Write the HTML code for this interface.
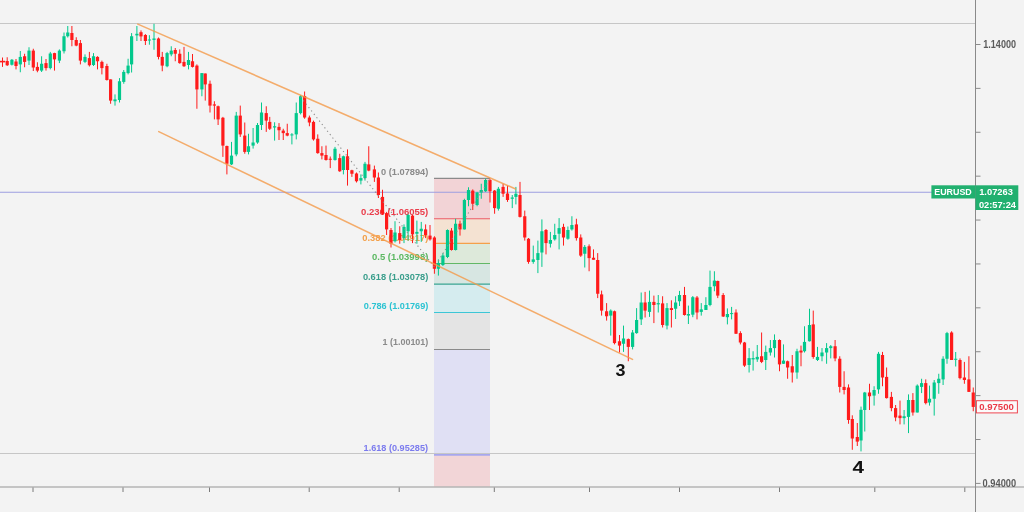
<!DOCTYPE html><html><head><meta charset="utf-8"><style>
html,body{margin:0;padding:0;background:#f3f3f3;}
svg{display:block;font-family:"Liberation Sans",sans-serif;will-change:transform;}
</style></head><body>
<svg width="1024" height="512" viewBox="0 0 1024 512">
<rect width="1024" height="512" fill="#f3f3f3"/>
<rect x="434" y="178.4" width="56" height="40.4" fill="#f2d3d6"/>
<rect x="434" y="218.8" width="56" height="24.6" fill="#f4e2d2"/>
<rect x="434" y="243.4" width="56" height="20.1" fill="#dde9da"/>
<rect x="434" y="263.5" width="56" height="20.6" fill="#d7e6e2"/>
<rect x="434" y="284.1" width="56" height="28.4" fill="#d5ecef"/>
<rect x="434" y="312.5" width="56" height="37" fill="#e4e4e4"/>
<rect x="434" y="349.5" width="56" height="105.4" fill="#e0e0f4"/>
<rect x="434" y="454.9" width="56" height="32.1" fill="#f2d5d7"/>
<line x1="0" y1="23.5" x2="975" y2="23.5" stroke="#c6c6c6" stroke-width="1"/>
<line x1="0" y1="453.5" x2="975" y2="453.5" stroke="#c6c6c6" stroke-width="1"/>
<line x1="434" y1="178.4" x2="490" y2="178.4" stroke="#8a8a8a" stroke-width="1.1"/>
<line x1="434" y1="218.8" x2="490" y2="218.8" stroke="#ec5a66" stroke-width="1.1"/>
<line x1="434" y1="243.4" x2="490" y2="243.4" stroke="#f5a04a" stroke-width="1.1"/>
<line x1="434" y1="263.5" x2="490" y2="263.5" stroke="#62b866" stroke-width="1.1"/>
<line x1="434" y1="284.1" x2="490" y2="284.1" stroke="#3aa592" stroke-width="1.1"/>
<line x1="434" y1="312.5" x2="490" y2="312.5" stroke="#3cc6d6" stroke-width="1.1"/>
<line x1="434" y1="349.5" x2="490" y2="349.5" stroke="#8a8a8a" stroke-width="1.1"/>
<line x1="434" y1="454.9" x2="490" y2="454.9" stroke="#a7a7ee" stroke-width="1.6"/>
<line x1="0" y1="192.2" x2="932" y2="192.2" stroke="#9c9ee0" stroke-width="1.15"/>
<text x="381.05" y="175.2" font-size="9.2" font-weight="bold" fill="#8a8a8a" textLength="47.25" lengthAdjust="spacingAndGlyphs">0 (1.07894)</text>
<text x="361.1" y="215.1" font-size="9.2" font-weight="bold" fill="#ea3d4b" textLength="67.2" lengthAdjust="spacingAndGlyphs">0.236 (1.06055)</text>
<text x="362.3" y="240.6" font-size="9.2" font-weight="bold" fill="#f3a04a" textLength="66.0" lengthAdjust="spacingAndGlyphs">0.382 (1.04917)</text>
<text x="372.0" y="260.2" font-size="9.2" font-weight="bold" fill="#5cb862" textLength="56.3" lengthAdjust="spacingAndGlyphs">0.5 (1.03998)</text>
<text x="362.9" y="280.1" font-size="9.2" font-weight="bold" fill="#3a9e8c" textLength="65.4" lengthAdjust="spacingAndGlyphs">0.618 (1.03078)</text>
<text x="363.8" y="308.8" font-size="9.2" font-weight="bold" fill="#2cc3d2" textLength="64.5" lengthAdjust="spacingAndGlyphs">0.786 (1.01769)</text>
<text x="382.6" y="345.4" font-size="9.2" font-weight="bold" fill="#8a8a8a" textLength="45.7" lengthAdjust="spacingAndGlyphs">1 (1.00101)</text>
<text x="363.6" y="450.6" font-size="9.2" font-weight="bold" fill="#7b7bee" textLength="64.4" lengthAdjust="spacingAndGlyphs">1.618 (0.95285)</text>
<line x1="2.5" y1="57.5" x2="2.5" y2="66.9" stroke="#ff1b1b" stroke-width="1"/>
<rect x="0" y="60.8" width="5.1" height="1.6" fill="#ff1b1b"/>
<line x1="7.2" y1="57.25" x2="7.2" y2="66" stroke="#ff1b1b" stroke-width="1"/>
<rect x="5.6" y="61" width="3.2" height="4.25" fill="#ff1b1b"/>
<line x1="11.9" y1="59" x2="11.9" y2="65.5" stroke="#02c88c" stroke-width="1"/>
<rect x="10.3" y="59.75" width="3.2" height="5" fill="#02c88c"/>
<line x1="16" y1="59" x2="16" y2="69.4" stroke="#ff1b1b" stroke-width="1"/>
<rect x="14.4" y="61.5" width="3.2" height="4.5" fill="#ff1b1b"/>
<line x1="20.3" y1="51" x2="20.3" y2="72.25" stroke="#02c88c" stroke-width="1"/>
<rect x="18.7" y="56.9" width="3.2" height="7.5" fill="#02c88c"/>
<line x1="24.6" y1="53.75" x2="24.6" y2="67.25" stroke="#ff1b1b" stroke-width="1"/>
<rect x="23" y="56.25" width="3.2" height="5.65" fill="#ff1b1b"/>
<line x1="29" y1="47.25" x2="29" y2="65" stroke="#02c88c" stroke-width="1"/>
<rect x="27.4" y="50.6" width="3.2" height="10" fill="#02c88c"/>
<line x1="33.3" y1="48.75" x2="33.3" y2="71" stroke="#ff1b1b" stroke-width="1"/>
<rect x="31.7" y="50.6" width="3.2" height="16.9" fill="#ff1b1b"/>
<line x1="37.4" y1="62.25" x2="37.4" y2="72.25" stroke="#ff1b1b" stroke-width="1"/>
<rect x="35.8" y="66.9" width="3.2" height="3.7" fill="#ff1b1b"/>
<line x1="41.6" y1="56.25" x2="41.6" y2="72" stroke="#02c88c" stroke-width="1"/>
<rect x="40" y="63.75" width="3.2" height="6.85" fill="#02c88c"/>
<line x1="46" y1="59" x2="46" y2="70.6" stroke="#ff1b1b" stroke-width="1"/>
<rect x="44.4" y="63.1" width="3.2" height="5" fill="#ff1b1b"/>
<line x1="50.3" y1="51.9" x2="50.3" y2="69.4" stroke="#02c88c" stroke-width="1"/>
<rect x="48.7" y="53.5" width="3.2" height="14.6" fill="#02c88c"/>
<line x1="54.5" y1="52.75" x2="54.5" y2="70.6" stroke="#ff1b1b" stroke-width="1"/>
<rect x="52.9" y="53.1" width="3.2" height="6.3" fill="#ff1b1b"/>
<line x1="59.4" y1="49.4" x2="59.4" y2="63.1" stroke="#02c88c" stroke-width="1"/>
<rect x="57.8" y="50.6" width="3.2" height="10" fill="#02c88c"/>
<line x1="64" y1="32.5" x2="64" y2="53.5" stroke="#02c88c" stroke-width="1"/>
<rect x="62.4" y="36.25" width="3.2" height="15" fill="#02c88c"/>
<line x1="67.75" y1="26" x2="67.75" y2="37.5" stroke="#02c88c" stroke-width="1"/>
<rect x="66.15" y="32.5" width="3.2" height="3.75" fill="#02c88c"/>
<line x1="71.9" y1="26" x2="71.9" y2="46.25" stroke="#ff1b1b" stroke-width="1"/>
<rect x="70.3" y="33" width="3.2" height="7" fill="#ff1b1b"/>
<line x1="76.25" y1="37.25" x2="76.25" y2="46.25" stroke="#ff1b1b" stroke-width="1"/>
<rect x="74.65" y="40" width="3.2" height="5.6" fill="#ff1b1b"/>
<line x1="80.4" y1="40" x2="80.4" y2="64.4" stroke="#ff1b1b" stroke-width="1"/>
<rect x="78.8" y="43.1" width="3.2" height="17.5" fill="#ff1b1b"/>
<line x1="85" y1="54.4" x2="85" y2="63.1" stroke="#02c88c" stroke-width="1"/>
<rect x="83.4" y="56.9" width="3.2" height="5" fill="#02c88c"/>
<line x1="89.4" y1="51.9" x2="89.4" y2="66.5" stroke="#ff1b1b" stroke-width="1"/>
<rect x="87.8" y="58.1" width="3.2" height="7.15" fill="#ff1b1b"/>
<line x1="93.5" y1="53.1" x2="93.5" y2="66" stroke="#02c88c" stroke-width="1"/>
<rect x="91.9" y="56.25" width="3.2" height="8.75" fill="#02c88c"/>
<line x1="97.5" y1="56.25" x2="97.5" y2="69.4" stroke="#ff1b1b" stroke-width="1"/>
<rect x="95.9" y="56.9" width="3.2" height="4.35" fill="#ff1b1b"/>
<line x1="101.9" y1="60.6" x2="101.9" y2="74.4" stroke="#ff1b1b" stroke-width="1"/>
<rect x="100.3" y="61.9" width="3.2" height="6.2" fill="#ff1b1b"/>
<line x1="106.9" y1="63.75" x2="106.9" y2="80.6" stroke="#ff1b1b" stroke-width="1"/>
<rect x="105.3" y="66" width="3.2" height="14" fill="#ff1b1b"/>
<line x1="110.6" y1="79.4" x2="110.6" y2="103.75" stroke="#ff1b1b" stroke-width="1"/>
<rect x="109" y="79.4" width="3.2" height="21.2" fill="#ff1b1b"/>
<line x1="115" y1="94.4" x2="115" y2="105.6" stroke="#02c88c" stroke-width="1"/>
<rect x="113.4" y="99.4" width="3.2" height="1.85" fill="#02c88c"/>
<line x1="119.5" y1="78.1" x2="119.5" y2="102.5" stroke="#02c88c" stroke-width="1"/>
<rect x="117.9" y="81.25" width="3.2" height="18.75" fill="#02c88c"/>
<line x1="123.75" y1="70" x2="123.75" y2="83.75" stroke="#02c88c" stroke-width="1"/>
<rect x="122.15" y="71.9" width="3.2" height="10" fill="#02c88c"/>
<line x1="128.1" y1="58.75" x2="128.1" y2="74.4" stroke="#02c88c" stroke-width="1"/>
<rect x="126.5" y="65.6" width="3.2" height="7.5" fill="#02c88c"/>
<line x1="131.6" y1="33.1" x2="131.6" y2="72.5" stroke="#02c88c" stroke-width="1"/>
<rect x="130" y="36.25" width="3.2" height="28.15" fill="#02c88c"/>
<line x1="136.9" y1="26" x2="136.9" y2="41" stroke="#02c88c" stroke-width="1"/>
<rect x="135.3" y="33.8" width="3.2" height="1.6" fill="#02c88c"/>
<line x1="141" y1="30.4" x2="141" y2="41" stroke="#ff1b1b" stroke-width="1"/>
<rect x="139.4" y="32.2" width="3.2" height="4.2" fill="#ff1b1b"/>
<line x1="145.4" y1="34.1" x2="145.4" y2="45" stroke="#ff1b1b" stroke-width="1"/>
<rect x="143.8" y="35" width="3.2" height="6" fill="#ff1b1b"/>
<line x1="149.4" y1="35.2" x2="149.4" y2="44.7" stroke="#02c88c" stroke-width="1"/>
<rect x="147.8" y="39.5" width="3.2" height="1" fill="#02c88c"/>
<line x1="154" y1="23.8" x2="154" y2="49.75" stroke="#02c88c" stroke-width="1"/>
<rect x="152.4" y="38.5" width="3.2" height="1.4" fill="#02c88c"/>
<line x1="158.5" y1="37.5" x2="158.5" y2="59.4" stroke="#ff1b1b" stroke-width="1"/>
<rect x="156.9" y="38.5" width="3.2" height="18.4" fill="#ff1b1b"/>
<line x1="162.25" y1="51.9" x2="162.25" y2="71.25" stroke="#ff1b1b" stroke-width="1"/>
<rect x="160.65" y="56.9" width="3.2" height="8.7" fill="#ff1b1b"/>
<line x1="167.1" y1="51.9" x2="167.1" y2="67.25" stroke="#02c88c" stroke-width="1"/>
<rect x="165.5" y="53.1" width="3.2" height="13.15" fill="#02c88c"/>
<line x1="171.25" y1="46.25" x2="171.25" y2="56.25" stroke="#02c88c" stroke-width="1"/>
<rect x="169.65" y="50.6" width="3.2" height="3.8" fill="#02c88c"/>
<line x1="175.25" y1="48" x2="175.25" y2="61.25" stroke="#ff1b1b" stroke-width="1"/>
<rect x="173.65" y="50" width="3.2" height="3.75" fill="#ff1b1b"/>
<line x1="179.75" y1="49.4" x2="179.75" y2="63.75" stroke="#ff1b1b" stroke-width="1"/>
<rect x="178.15" y="53.75" width="3.2" height="9.35" fill="#ff1b1b"/>
<line x1="184" y1="46.9" x2="184" y2="66.9" stroke="#ff1b1b" stroke-width="1"/>
<rect x="182.4" y="61.9" width="3.2" height="4.35" fill="#ff1b1b"/>
<line x1="188.5" y1="51.9" x2="188.5" y2="69.4" stroke="#02c88c" stroke-width="1"/>
<rect x="186.9" y="60" width="3.2" height="5" fill="#02c88c"/>
<line x1="192.5" y1="54" x2="192.5" y2="67.5" stroke="#ff1b1b" stroke-width="1"/>
<rect x="190.9" y="61.25" width="3.2" height="5.65" fill="#ff1b1b"/>
<line x1="196.9" y1="64.4" x2="196.9" y2="108.75" stroke="#ff1b1b" stroke-width="1"/>
<rect x="195.3" y="65.6" width="3.2" height="23.8" fill="#ff1b1b"/>
<line x1="201.9" y1="73" x2="201.9" y2="96.25" stroke="#02c88c" stroke-width="1"/>
<rect x="200.3" y="73.1" width="3.2" height="16.3" fill="#02c88c"/>
<line x1="205.25" y1="73.5" x2="205.25" y2="100.6" stroke="#ff1b1b" stroke-width="1"/>
<rect x="203.65" y="73.5" width="3.2" height="10.9" fill="#ff1b1b"/>
<line x1="210" y1="80.6" x2="210" y2="112.5" stroke="#ff1b1b" stroke-width="1"/>
<rect x="208.4" y="83.75" width="3.2" height="21.85" fill="#ff1b1b"/>
<line x1="214.4" y1="101.25" x2="214.4" y2="119.4" stroke="#ff1b1b" stroke-width="1"/>
<rect x="212.8" y="104.4" width="3.2" height="1.2" fill="#ff1b1b"/>
<line x1="218.1" y1="105.6" x2="218.1" y2="125" stroke="#ff1b1b" stroke-width="1"/>
<rect x="216.5" y="106.25" width="3.2" height="13.15" fill="#ff1b1b"/>
<line x1="222.9" y1="116.9" x2="222.9" y2="156.9" stroke="#ff1b1b" stroke-width="1"/>
<rect x="221.3" y="117.75" width="3.2" height="27.85" fill="#ff1b1b"/>
<line x1="226.9" y1="145.6" x2="226.9" y2="174.4" stroke="#ff1b1b" stroke-width="1"/>
<rect x="225.3" y="146" width="3.2" height="17.75" fill="#ff1b1b"/>
<line x1="231.5" y1="141.9" x2="231.5" y2="165" stroke="#02c88c" stroke-width="1"/>
<rect x="229.9" y="155.6" width="3.2" height="8.8" fill="#02c88c"/>
<line x1="236.25" y1="111.9" x2="236.25" y2="156.25" stroke="#02c88c" stroke-width="1"/>
<rect x="234.65" y="115.6" width="3.2" height="38.8" fill="#02c88c"/>
<line x1="240.25" y1="105.6" x2="240.25" y2="136.9" stroke="#ff1b1b" stroke-width="1"/>
<rect x="238.65" y="115.6" width="3.2" height="18.8" fill="#ff1b1b"/>
<line x1="244.75" y1="122.5" x2="244.75" y2="153.75" stroke="#ff1b1b" stroke-width="1"/>
<rect x="243.15" y="135.6" width="3.2" height="16.3" fill="#ff1b1b"/>
<line x1="248.5" y1="133.75" x2="248.5" y2="154.4" stroke="#02c88c" stroke-width="1"/>
<rect x="246.9" y="146.25" width="3.2" height="5.65" fill="#02c88c"/>
<line x1="253.1" y1="128" x2="253.1" y2="148.6" stroke="#02c88c" stroke-width="1"/>
<rect x="251.5" y="142.5" width="3.2" height="3.1" fill="#02c88c"/>
<line x1="257.5" y1="123" x2="257.5" y2="143.75" stroke="#02c88c" stroke-width="1"/>
<rect x="255.9" y="125" width="3.2" height="17.5" fill="#02c88c"/>
<line x1="261.5" y1="102.5" x2="261.5" y2="130" stroke="#02c88c" stroke-width="1"/>
<rect x="259.9" y="112.5" width="3.2" height="12.5" fill="#02c88c"/>
<line x1="266.25" y1="106.25" x2="266.25" y2="131.9" stroke="#ff1b1b" stroke-width="1"/>
<rect x="264.65" y="113.1" width="3.2" height="7.5" fill="#ff1b1b"/>
<line x1="269.75" y1="116.9" x2="269.75" y2="130" stroke="#ff1b1b" stroke-width="1"/>
<rect x="268.15" y="121.9" width="3.2" height="6.85" fill="#ff1b1b"/>
<line x1="274.6" y1="122.25" x2="274.6" y2="140.6" stroke="#02c88c" stroke-width="1"/>
<rect x="273" y="126.25" width="3.2" height="1.25" fill="#02c88c"/>
<line x1="279" y1="123.1" x2="279" y2="140" stroke="#ff1b1b" stroke-width="1"/>
<rect x="277.4" y="126.9" width="3.2" height="3.35" fill="#ff1b1b"/>
<line x1="283.25" y1="128.75" x2="283.25" y2="140" stroke="#ff1b1b" stroke-width="1"/>
<rect x="281.65" y="130.6" width="3.2" height="2.5" fill="#ff1b1b"/>
<line x1="287.25" y1="123.75" x2="287.25" y2="136.25" stroke="#ff1b1b" stroke-width="1"/>
<rect x="285.65" y="133.1" width="3.2" height="2.5" fill="#ff1b1b"/>
<line x1="291.9" y1="133.1" x2="291.9" y2="144.4" stroke="#02c88c" stroke-width="1"/>
<rect x="290.3" y="134.4" width="3.2" height="1" fill="#02c88c"/>
<line x1="296.25" y1="102.5" x2="296.25" y2="139.4" stroke="#02c88c" stroke-width="1"/>
<rect x="294.65" y="113.1" width="3.2" height="21.3" fill="#02c88c"/>
<line x1="300.6" y1="95" x2="300.6" y2="114.4" stroke="#02c88c" stroke-width="1"/>
<rect x="299" y="96.25" width="3.2" height="16.85" fill="#02c88c"/>
<line x1="304.6" y1="91.5" x2="304.6" y2="118.75" stroke="#ff1b1b" stroke-width="1"/>
<rect x="303" y="96" width="3.2" height="21.5" fill="#ff1b1b"/>
<line x1="309.4" y1="115.6" x2="309.4" y2="126.25" stroke="#ff1b1b" stroke-width="1"/>
<rect x="307.8" y="117.5" width="3.2" height="5" fill="#ff1b1b"/>
<line x1="313.5" y1="120.6" x2="313.5" y2="140.6" stroke="#ff1b1b" stroke-width="1"/>
<rect x="311.9" y="121.9" width="3.2" height="17.5" fill="#ff1b1b"/>
<line x1="317.75" y1="134.4" x2="317.75" y2="153.75" stroke="#ff1b1b" stroke-width="1"/>
<rect x="316.15" y="138.75" width="3.2" height="14.35" fill="#ff1b1b"/>
<line x1="321.9" y1="146.25" x2="321.9" y2="159.4" stroke="#ff1b1b" stroke-width="1"/>
<rect x="320.3" y="153.1" width="3.2" height="2.5" fill="#ff1b1b"/>
<line x1="326" y1="145.6" x2="326" y2="160.6" stroke="#ff1b1b" stroke-width="1"/>
<rect x="324.4" y="155" width="3.2" height="5" fill="#ff1b1b"/>
<line x1="330.25" y1="156.5" x2="330.25" y2="168.1" stroke="#ff1b1b" stroke-width="1"/>
<rect x="328.65" y="158.75" width="3.2" height="1" fill="#ff1b1b"/>
<line x1="335" y1="146.9" x2="335" y2="160.6" stroke="#02c88c" stroke-width="1"/>
<rect x="333.4" y="148.75" width="3.2" height="11.25" fill="#02c88c"/>
<line x1="339.75" y1="153.75" x2="339.75" y2="171.9" stroke="#ff1b1b" stroke-width="1"/>
<rect x="338.15" y="158.1" width="3.2" height="13.15" fill="#ff1b1b"/>
<line x1="343.4" y1="155.6" x2="343.4" y2="174.4" stroke="#02c88c" stroke-width="1"/>
<rect x="341.8" y="156.25" width="3.2" height="13.75" fill="#02c88c"/>
<line x1="347.5" y1="149.4" x2="347.5" y2="185.6" stroke="#ff1b1b" stroke-width="1"/>
<rect x="345.9" y="156.25" width="3.2" height="13.75" fill="#ff1b1b"/>
<line x1="351.9" y1="169.75" x2="351.9" y2="176.9" stroke="#ff1b1b" stroke-width="1"/>
<rect x="350.3" y="170.25" width="3.2" height="3.5" fill="#ff1b1b"/>
<line x1="356.5" y1="172.5" x2="356.5" y2="182.5" stroke="#ff1b1b" stroke-width="1"/>
<rect x="354.9" y="173.5" width="3.2" height="7.75" fill="#ff1b1b"/>
<line x1="360.9" y1="174.4" x2="360.9" y2="184.4" stroke="#02c88c" stroke-width="1"/>
<rect x="359.3" y="178.1" width="3.2" height="2.5" fill="#02c88c"/>
<line x1="365" y1="161.9" x2="365" y2="180.6" stroke="#02c88c" stroke-width="1"/>
<rect x="363.4" y="163.75" width="3.2" height="14.35" fill="#02c88c"/>
<line x1="368.75" y1="146.25" x2="368.75" y2="171.25" stroke="#ff1b1b" stroke-width="1"/>
<rect x="367.15" y="164.4" width="3.2" height="6.2" fill="#ff1b1b"/>
<line x1="374.4" y1="165.6" x2="374.4" y2="181.9" stroke="#ff1b1b" stroke-width="1"/>
<rect x="372.8" y="169.4" width="3.2" height="8.1" fill="#ff1b1b"/>
<line x1="378.4" y1="172.5" x2="378.4" y2="198" stroke="#ff1b1b" stroke-width="1"/>
<rect x="376.8" y="177.5" width="3.2" height="17.5" fill="#ff1b1b"/>
<line x1="382.5" y1="189.75" x2="382.5" y2="215" stroke="#ff1b1b" stroke-width="1"/>
<rect x="380.9" y="196.9" width="3.2" height="16.85" fill="#ff1b1b"/>
<line x1="386.6" y1="211.9" x2="386.6" y2="235" stroke="#ff1b1b" stroke-width="1"/>
<rect x="385" y="213.1" width="3.2" height="16.3" fill="#ff1b1b"/>
<line x1="391" y1="228" x2="391" y2="247.5" stroke="#ff1b1b" stroke-width="1"/>
<rect x="389.4" y="230" width="3.2" height="13.75" fill="#ff1b1b"/>
<line x1="395" y1="221.25" x2="395" y2="242.5" stroke="#02c88c" stroke-width="1"/>
<rect x="393.4" y="232.5" width="3.2" height="8.75" fill="#02c88c"/>
<line x1="399.75" y1="226.25" x2="399.75" y2="243.75" stroke="#ff1b1b" stroke-width="1"/>
<rect x="398.15" y="233.1" width="3.2" height="6.9" fill="#ff1b1b"/>
<line x1="404" y1="224.4" x2="404" y2="243.1" stroke="#02c88c" stroke-width="1"/>
<rect x="402.4" y="226.9" width="3.2" height="11.2" fill="#02c88c"/>
<line x1="408.1" y1="213.75" x2="408.1" y2="240.6" stroke="#02c88c" stroke-width="1"/>
<rect x="406.5" y="215" width="3.2" height="16.25" fill="#02c88c"/>
<line x1="412.5" y1="215" x2="412.5" y2="243.1" stroke="#ff1b1b" stroke-width="1"/>
<rect x="410.9" y="215.6" width="3.2" height="18.8" fill="#ff1b1b"/>
<line x1="416.9" y1="220.6" x2="416.9" y2="243.75" stroke="#02c88c" stroke-width="1"/>
<rect x="415.3" y="231.9" width="3.2" height="1.85" fill="#02c88c"/>
<line x1="421.25" y1="221.9" x2="421.25" y2="241.9" stroke="#02c88c" stroke-width="1"/>
<rect x="419.65" y="228.75" width="3.2" height="2.5" fill="#02c88c"/>
<line x1="425.6" y1="224.4" x2="425.6" y2="238.1" stroke="#ff1b1b" stroke-width="1"/>
<rect x="424" y="229.4" width="3.2" height="5.6" fill="#ff1b1b"/>
<line x1="430" y1="225" x2="430" y2="240.6" stroke="#ff1b1b" stroke-width="1"/>
<rect x="428.4" y="235.6" width="3.2" height="3.8" fill="#ff1b1b"/>
<line x1="434.4" y1="236.25" x2="434.4" y2="273.75" stroke="#ff1b1b" stroke-width="1"/>
<rect x="432.8" y="237.5" width="3.2" height="31.25" fill="#ff1b1b"/>
<line x1="438.4" y1="259.4" x2="438.4" y2="275.6" stroke="#02c88c" stroke-width="1"/>
<rect x="436.8" y="263.1" width="3.2" height="5.65" fill="#02c88c"/>
<line x1="442.9" y1="253.1" x2="442.9" y2="266" stroke="#02c88c" stroke-width="1"/>
<rect x="441.3" y="255.5" width="3.2" height="9.5" fill="#02c88c"/>
<line x1="447.5" y1="229.4" x2="447.5" y2="258.1" stroke="#02c88c" stroke-width="1"/>
<rect x="445.9" y="230" width="3.2" height="27" fill="#02c88c"/>
<line x1="451.5" y1="228.1" x2="451.5" y2="250.6" stroke="#ff1b1b" stroke-width="1"/>
<rect x="449.9" y="230.6" width="3.2" height="19.4" fill="#ff1b1b"/>
<line x1="455.6" y1="218.75" x2="455.6" y2="250.5" stroke="#02c88c" stroke-width="1"/>
<rect x="454" y="223.75" width="3.2" height="26.25" fill="#02c88c"/>
<line x1="460" y1="220.6" x2="460" y2="235.6" stroke="#ff1b1b" stroke-width="1"/>
<rect x="458.4" y="223.75" width="3.2" height="5.65" fill="#ff1b1b"/>
<line x1="464.4" y1="198.75" x2="464.4" y2="229.5" stroke="#02c88c" stroke-width="1"/>
<rect x="462.8" y="200" width="3.2" height="29.4" fill="#02c88c"/>
<line x1="468.5" y1="187.25" x2="468.5" y2="206.25" stroke="#02c88c" stroke-width="1"/>
<rect x="466.9" y="190" width="3.2" height="10" fill="#02c88c"/>
<line x1="472.75" y1="189.4" x2="472.75" y2="210" stroke="#ff1b1b" stroke-width="1"/>
<rect x="471.15" y="190.6" width="3.2" height="13.15" fill="#ff1b1b"/>
<line x1="477.1" y1="191.9" x2="477.1" y2="206.25" stroke="#02c88c" stroke-width="1"/>
<rect x="475.5" y="192.5" width="3.2" height="12.5" fill="#02c88c"/>
<line x1="481.25" y1="183.75" x2="481.25" y2="198.75" stroke="#02c88c" stroke-width="1"/>
<rect x="479.65" y="190" width="3.2" height="2.5" fill="#02c88c"/>
<line x1="485.6" y1="178.75" x2="485.6" y2="191.9" stroke="#02c88c" stroke-width="1"/>
<rect x="484" y="180" width="3.2" height="11.25" fill="#02c88c"/>
<line x1="490" y1="178.75" x2="490" y2="202.5" stroke="#ff1b1b" stroke-width="1"/>
<rect x="488.4" y="180" width="3.2" height="11.25" fill="#ff1b1b"/>
<line x1="494.6" y1="190" x2="494.6" y2="213.75" stroke="#ff1b1b" stroke-width="1"/>
<rect x="493" y="190.6" width="3.2" height="17.5" fill="#ff1b1b"/>
<line x1="498.4" y1="186.9" x2="498.4" y2="210.6" stroke="#02c88c" stroke-width="1"/>
<rect x="496.8" y="188.75" width="3.2" height="20" fill="#02c88c"/>
<line x1="503.1" y1="183.75" x2="503.1" y2="196.9" stroke="#ff1b1b" stroke-width="1"/>
<rect x="501.5" y="186.9" width="3.2" height="6.85" fill="#ff1b1b"/>
<line x1="507.5" y1="185.6" x2="507.5" y2="201.9" stroke="#ff1b1b" stroke-width="1"/>
<rect x="505.9" y="193.5" width="3.2" height="6.5" fill="#ff1b1b"/>
<line x1="512.25" y1="195" x2="512.25" y2="208.1" stroke="#02c88c" stroke-width="1"/>
<rect x="510.65" y="197.5" width="3.2" height="1.25" fill="#02c88c"/>
<line x1="515.9" y1="186.9" x2="515.9" y2="204.4" stroke="#02c88c" stroke-width="1"/>
<rect x="514.3" y="193.75" width="3.2" height="3.15" fill="#02c88c"/>
<line x1="520" y1="181.9" x2="520" y2="217.5" stroke="#ff1b1b" stroke-width="1"/>
<rect x="518.4" y="195" width="3.2" height="21.9" fill="#ff1b1b"/>
<line x1="524.75" y1="210.6" x2="524.75" y2="240.6" stroke="#ff1b1b" stroke-width="1"/>
<rect x="523.15" y="216.25" width="3.2" height="21.25" fill="#ff1b1b"/>
<line x1="528.5" y1="238" x2="528.5" y2="263.75" stroke="#ff1b1b" stroke-width="1"/>
<rect x="526.9" y="238.75" width="3.2" height="23.15" fill="#ff1b1b"/>
<line x1="533.25" y1="245.6" x2="533.25" y2="263.75" stroke="#02c88c" stroke-width="1"/>
<rect x="531.65" y="259.4" width="3.2" height="2.5" fill="#02c88c"/>
<line x1="537.9" y1="240.6" x2="537.9" y2="273.1" stroke="#02c88c" stroke-width="1"/>
<rect x="536.3" y="253.1" width="3.2" height="6.9" fill="#02c88c"/>
<line x1="541.9" y1="219.4" x2="541.9" y2="266.9" stroke="#02c88c" stroke-width="1"/>
<rect x="540.3" y="231.25" width="3.2" height="21.25" fill="#02c88c"/>
<line x1="546" y1="229" x2="546" y2="254.4" stroke="#ff1b1b" stroke-width="1"/>
<rect x="544.4" y="230" width="3.2" height="13.1" fill="#ff1b1b"/>
<line x1="550.4" y1="231.9" x2="550.4" y2="247.5" stroke="#02c88c" stroke-width="1"/>
<rect x="548.8" y="240" width="3.2" height="3.75" fill="#02c88c"/>
<line x1="554.75" y1="223.75" x2="554.75" y2="240.6" stroke="#02c88c" stroke-width="1"/>
<rect x="553.15" y="235" width="3.2" height="4.4" fill="#02c88c"/>
<line x1="559.1" y1="218.1" x2="559.1" y2="249.4" stroke="#02c88c" stroke-width="1"/>
<rect x="557.5" y="228.1" width="3.2" height="5.65" fill="#02c88c"/>
<line x1="563.5" y1="223.75" x2="563.5" y2="245.6" stroke="#ff1b1b" stroke-width="1"/>
<rect x="561.9" y="226.9" width="3.2" height="10.6" fill="#ff1b1b"/>
<line x1="567.9" y1="226.5" x2="567.9" y2="239.75" stroke="#02c88c" stroke-width="1"/>
<rect x="566.3" y="230" width="3.2" height="8.75" fill="#02c88c"/>
<line x1="571.9" y1="216.25" x2="571.9" y2="230.6" stroke="#02c88c" stroke-width="1"/>
<rect x="570.3" y="225" width="3.2" height="4.4" fill="#02c88c"/>
<line x1="576.4" y1="218.75" x2="576.4" y2="240.6" stroke="#ff1b1b" stroke-width="1"/>
<rect x="574.8" y="224.4" width="3.2" height="13.7" fill="#ff1b1b"/>
<line x1="580.75" y1="234.4" x2="580.75" y2="256.9" stroke="#ff1b1b" stroke-width="1"/>
<rect x="579.15" y="237.5" width="3.2" height="18.1" fill="#ff1b1b"/>
<line x1="584.75" y1="245" x2="584.75" y2="267.5" stroke="#02c88c" stroke-width="1"/>
<rect x="583.15" y="246.9" width="3.2" height="6.85" fill="#02c88c"/>
<line x1="589.1" y1="244.4" x2="589.1" y2="271.25" stroke="#ff1b1b" stroke-width="1"/>
<rect x="587.5" y="246.25" width="3.2" height="11.85" fill="#ff1b1b"/>
<line x1="593.5" y1="249.4" x2="593.5" y2="259.75" stroke="#ff1b1b" stroke-width="1"/>
<rect x="591.9" y="257.75" width="3.2" height="2" fill="#ff1b1b"/>
<line x1="597.7" y1="253.1" x2="597.7" y2="298.1" stroke="#ff1b1b" stroke-width="1"/>
<rect x="596.1" y="260" width="3.2" height="33.75" fill="#ff1b1b"/>
<line x1="601.6" y1="290.6" x2="601.6" y2="315.6" stroke="#ff1b1b" stroke-width="1"/>
<rect x="600" y="294.4" width="3.2" height="16.2" fill="#ff1b1b"/>
<line x1="606.6" y1="303.1" x2="606.6" y2="320.6" stroke="#ff1b1b" stroke-width="1"/>
<rect x="605" y="311.25" width="3.2" height="5" fill="#ff1b1b"/>
<line x1="610.75" y1="309.4" x2="610.75" y2="335.6" stroke="#02c88c" stroke-width="1"/>
<rect x="609.15" y="310.6" width="3.2" height="5" fill="#02c88c"/>
<line x1="614.5" y1="310.6" x2="614.5" y2="344.4" stroke="#ff1b1b" stroke-width="1"/>
<rect x="612.9" y="311.25" width="3.2" height="31.85" fill="#ff1b1b"/>
<line x1="619.5" y1="335" x2="619.5" y2="352.5" stroke="#ff1b1b" stroke-width="1"/>
<rect x="617.9" y="341.25" width="3.2" height="4.35" fill="#ff1b1b"/>
<line x1="623.5" y1="325.6" x2="623.5" y2="351.9" stroke="#02c88c" stroke-width="1"/>
<rect x="621.9" y="338.5" width="3.2" height="5.25" fill="#02c88c"/>
<line x1="628.3" y1="338.5" x2="628.3" y2="361.25" stroke="#ff1b1b" stroke-width="1"/>
<rect x="626.7" y="339.1" width="3.2" height="7.8" fill="#ff1b1b"/>
<line x1="632.6" y1="330" x2="632.6" y2="349.4" stroke="#02c88c" stroke-width="1"/>
<rect x="631" y="332.5" width="3.2" height="14.4" fill="#02c88c"/>
<line x1="636.6" y1="308.1" x2="636.6" y2="333.75" stroke="#02c88c" stroke-width="1"/>
<rect x="635" y="320" width="3.2" height="13.1" fill="#02c88c"/>
<line x1="641.2" y1="292.5" x2="641.2" y2="325" stroke="#02c88c" stroke-width="1"/>
<rect x="639.6" y="302.5" width="3.2" height="16.9" fill="#02c88c"/>
<line x1="645.1" y1="291.9" x2="645.1" y2="317.5" stroke="#ff1b1b" stroke-width="1"/>
<rect x="643.5" y="302.5" width="3.2" height="8.1" fill="#ff1b1b"/>
<line x1="649.5" y1="290.6" x2="649.5" y2="316.9" stroke="#02c88c" stroke-width="1"/>
<rect x="647.9" y="301.9" width="3.2" height="10" fill="#02c88c"/>
<line x1="653.9" y1="295.6" x2="653.9" y2="323.1" stroke="#ff1b1b" stroke-width="1"/>
<rect x="652.3" y="301.9" width="3.2" height="3.1" fill="#ff1b1b"/>
<line x1="658.25" y1="295" x2="658.25" y2="312.5" stroke="#02c88c" stroke-width="1"/>
<rect x="656.65" y="303.1" width="3.2" height="1.3" fill="#02c88c"/>
<line x1="662.6" y1="296.25" x2="662.6" y2="327.5" stroke="#ff1b1b" stroke-width="1"/>
<rect x="661" y="303.4" width="3.2" height="21.6" fill="#ff1b1b"/>
<line x1="667" y1="303.1" x2="667" y2="329.4" stroke="#02c88c" stroke-width="1"/>
<rect x="665.4" y="308.1" width="3.2" height="17.5" fill="#02c88c"/>
<line x1="671.4" y1="300.3" x2="671.4" y2="327.5" stroke="#ff1b1b" stroke-width="1"/>
<rect x="669.8" y="308.1" width="3.2" height="1.9" fill="#ff1b1b"/>
<line x1="675.6" y1="296.25" x2="675.6" y2="319" stroke="#02c88c" stroke-width="1"/>
<rect x="674" y="302.5" width="3.2" height="6.25" fill="#02c88c"/>
<line x1="679.5" y1="290.9" x2="679.5" y2="306" stroke="#02c88c" stroke-width="1"/>
<rect x="677.9" y="295" width="3.2" height="6.25" fill="#02c88c"/>
<line x1="684.5" y1="286.9" x2="684.5" y2="315.6" stroke="#ff1b1b" stroke-width="1"/>
<rect x="682.9" y="295" width="3.2" height="20" fill="#ff1b1b"/>
<line x1="688.4" y1="305.6" x2="688.4" y2="324" stroke="#02c88c" stroke-width="1"/>
<rect x="686.8" y="314" width="3.2" height="1.6" fill="#02c88c"/>
<line x1="692.8" y1="296" x2="692.8" y2="317.2" stroke="#02c88c" stroke-width="1"/>
<rect x="691.2" y="297.2" width="3.2" height="17.5" fill="#02c88c"/>
<line x1="697" y1="296" x2="697" y2="319.4" stroke="#ff1b1b" stroke-width="1"/>
<rect x="695.4" y="297.5" width="3.2" height="15" fill="#ff1b1b"/>
<line x1="701.25" y1="303.1" x2="701.25" y2="315.6" stroke="#02c88c" stroke-width="1"/>
<rect x="699.65" y="309.4" width="3.2" height="2.5" fill="#02c88c"/>
<line x1="705.9" y1="297.2" x2="705.9" y2="310" stroke="#02c88c" stroke-width="1"/>
<rect x="704.3" y="305" width="3.2" height="5" fill="#02c88c"/>
<line x1="710" y1="270.6" x2="710" y2="306.25" stroke="#02c88c" stroke-width="1"/>
<rect x="708.4" y="286.9" width="3.2" height="18.1" fill="#02c88c"/>
<line x1="714.4" y1="271.25" x2="714.4" y2="291.25" stroke="#02c88c" stroke-width="1"/>
<rect x="712.8" y="280.6" width="3.2" height="5.65" fill="#02c88c"/>
<line x1="717.75" y1="280.6" x2="717.75" y2="298.1" stroke="#ff1b1b" stroke-width="1"/>
<rect x="716.15" y="281" width="3.2" height="14.6" fill="#ff1b1b"/>
<line x1="723.2" y1="293.1" x2="723.2" y2="317" stroke="#ff1b1b" stroke-width="1"/>
<rect x="721.6" y="295" width="3.2" height="21.5" fill="#ff1b1b"/>
<line x1="727.4" y1="308.4" x2="727.4" y2="324.4" stroke="#02c88c" stroke-width="1"/>
<rect x="725.8" y="314" width="3.2" height="3.2" fill="#02c88c"/>
<line x1="731.6" y1="306.9" x2="731.6" y2="319.4" stroke="#02c88c" stroke-width="1"/>
<rect x="730" y="313.1" width="3.2" height="1" fill="#02c88c"/>
<line x1="736" y1="309.4" x2="736" y2="334" stroke="#ff1b1b" stroke-width="1"/>
<rect x="734.4" y="312.5" width="3.2" height="21.25" fill="#ff1b1b"/>
<line x1="740.4" y1="331.25" x2="740.4" y2="344.4" stroke="#ff1b1b" stroke-width="1"/>
<rect x="738.8" y="333.1" width="3.2" height="9.4" fill="#ff1b1b"/>
<line x1="744.5" y1="341.9" x2="744.5" y2="366.9" stroke="#ff1b1b" stroke-width="1"/>
<rect x="742.9" y="342.5" width="3.2" height="23.1" fill="#ff1b1b"/>
<line x1="749.1" y1="348.1" x2="749.1" y2="372.5" stroke="#02c88c" stroke-width="1"/>
<rect x="747.5" y="358.1" width="3.2" height="6.9" fill="#02c88c"/>
<line x1="753.1" y1="351.25" x2="753.1" y2="370.6" stroke="#02c88c" stroke-width="1"/>
<rect x="751.5" y="358.1" width="3.2" height="1.3" fill="#02c88c"/>
<line x1="757.25" y1="345" x2="757.25" y2="361.9" stroke="#02c88c" stroke-width="1"/>
<rect x="755.65" y="356.9" width="3.2" height="2.5" fill="#02c88c"/>
<line x1="761.6" y1="332.5" x2="761.6" y2="363.1" stroke="#ff1b1b" stroke-width="1"/>
<rect x="760" y="356.25" width="3.2" height="5.65" fill="#ff1b1b"/>
<line x1="765.75" y1="345.6" x2="765.75" y2="370" stroke="#02c88c" stroke-width="1"/>
<rect x="764.15" y="351.9" width="3.2" height="8.1" fill="#02c88c"/>
<line x1="770.4" y1="340" x2="770.4" y2="355.6" stroke="#02c88c" stroke-width="1"/>
<rect x="768.8" y="348.1" width="3.2" height="4.4" fill="#02c88c"/>
<line x1="774.5" y1="334.4" x2="774.5" y2="357.5" stroke="#02c88c" stroke-width="1"/>
<rect x="772.9" y="340" width="3.2" height="8.1" fill="#02c88c"/>
<line x1="779.5" y1="339.4" x2="779.5" y2="371.25" stroke="#ff1b1b" stroke-width="1"/>
<rect x="777.9" y="340" width="3.2" height="24.4" fill="#ff1b1b"/>
<line x1="783.5" y1="344.4" x2="783.5" y2="364" stroke="#02c88c" stroke-width="1"/>
<rect x="781.9" y="360.6" width="3.2" height="3.15" fill="#02c88c"/>
<line x1="787.6" y1="360.6" x2="787.6" y2="378.75" stroke="#ff1b1b" stroke-width="1"/>
<rect x="786" y="361.25" width="3.2" height="6.25" fill="#ff1b1b"/>
<line x1="792.25" y1="355" x2="792.25" y2="382.5" stroke="#ff1b1b" stroke-width="1"/>
<rect x="790.65" y="366.25" width="3.2" height="6.25" fill="#ff1b1b"/>
<line x1="797" y1="348.75" x2="797" y2="378.75" stroke="#02c88c" stroke-width="1"/>
<rect x="795.4" y="351.25" width="3.2" height="21.25" fill="#02c88c"/>
<line x1="801" y1="345.6" x2="801" y2="366.25" stroke="#ff1b1b" stroke-width="1"/>
<rect x="799.4" y="350.6" width="3.2" height="1.9" fill="#ff1b1b"/>
<line x1="804.5" y1="326.25" x2="804.5" y2="352.5" stroke="#02c88c" stroke-width="1"/>
<rect x="802.9" y="341.9" width="3.2" height="9.35" fill="#02c88c"/>
<line x1="809.5" y1="308.75" x2="809.5" y2="341.5" stroke="#02c88c" stroke-width="1"/>
<rect x="807.9" y="325" width="3.2" height="16.25" fill="#02c88c"/>
<line x1="813.25" y1="310.6" x2="813.25" y2="358.75" stroke="#ff1b1b" stroke-width="1"/>
<rect x="811.65" y="324.4" width="3.2" height="32.6" fill="#ff1b1b"/>
<line x1="817.5" y1="346.9" x2="817.5" y2="361" stroke="#02c88c" stroke-width="1"/>
<rect x="815.9" y="356.9" width="3.2" height="3.1" fill="#02c88c"/>
<line x1="822" y1="348.1" x2="822" y2="361.25" stroke="#02c88c" stroke-width="1"/>
<rect x="820.4" y="352.5" width="3.2" height="3.75" fill="#02c88c"/>
<line x1="826.6" y1="343.1" x2="826.6" y2="363.75" stroke="#02c88c" stroke-width="1"/>
<rect x="825" y="348.1" width="3.2" height="4.4" fill="#02c88c"/>
<line x1="830.75" y1="345" x2="830.75" y2="358.4" stroke="#02c88c" stroke-width="1"/>
<rect x="829.15" y="346.25" width="3.2" height="1.85" fill="#02c88c"/>
<line x1="835.1" y1="340" x2="835.1" y2="361.25" stroke="#ff1b1b" stroke-width="1"/>
<rect x="833.5" y="346.25" width="3.2" height="12.15" fill="#ff1b1b"/>
<line x1="839.75" y1="356.25" x2="839.75" y2="392.5" stroke="#ff1b1b" stroke-width="1"/>
<rect x="838.15" y="358.75" width="3.2" height="28.15" fill="#ff1b1b"/>
<line x1="844.1" y1="371.25" x2="844.1" y2="394.4" stroke="#ff1b1b" stroke-width="1"/>
<rect x="842.5" y="386.9" width="3.2" height="3.1" fill="#ff1b1b"/>
<line x1="848.5" y1="384.4" x2="848.5" y2="423.75" stroke="#ff1b1b" stroke-width="1"/>
<rect x="846.9" y="387.5" width="3.2" height="32.5" fill="#ff1b1b"/>
<line x1="852.3" y1="415.3" x2="852.3" y2="449.8" stroke="#ff1b1b" stroke-width="1"/>
<rect x="850.7" y="419" width="3.2" height="19.5" fill="#ff1b1b"/>
<line x1="857.3" y1="423" x2="857.3" y2="446" stroke="#ff1b1b" stroke-width="1"/>
<rect x="855.7" y="437" width="3.2" height="4.6" fill="#ff1b1b"/>
<line x1="861" y1="406.6" x2="861" y2="451.4" stroke="#02c88c" stroke-width="1"/>
<rect x="859.4" y="409.8" width="3.2" height="30.7" fill="#02c88c"/>
<line x1="864.75" y1="391.9" x2="864.75" y2="431.5" stroke="#02c88c" stroke-width="1"/>
<rect x="863.15" y="392.5" width="3.2" height="17.5" fill="#02c88c"/>
<line x1="869.5" y1="383.75" x2="869.5" y2="410" stroke="#ff1b1b" stroke-width="1"/>
<rect x="867.9" y="392.5" width="3.2" height="3.75" fill="#ff1b1b"/>
<line x1="874.1" y1="386.25" x2="874.1" y2="405.6" stroke="#02c88c" stroke-width="1"/>
<rect x="872.5" y="390" width="3.2" height="5.6" fill="#02c88c"/>
<line x1="878.5" y1="351.9" x2="878.5" y2="393.75" stroke="#02c88c" stroke-width="1"/>
<rect x="876.9" y="353.75" width="3.2" height="35.65" fill="#02c88c"/>
<line x1="882.5" y1="351.9" x2="882.5" y2="386.25" stroke="#ff1b1b" stroke-width="1"/>
<rect x="880.9" y="355" width="3.2" height="22.5" fill="#ff1b1b"/>
<line x1="886.6" y1="367.5" x2="886.6" y2="398.5" stroke="#ff1b1b" stroke-width="1"/>
<rect x="885" y="376.9" width="3.2" height="21.2" fill="#ff1b1b"/>
<line x1="891.4" y1="391.9" x2="891.4" y2="411.25" stroke="#ff1b1b" stroke-width="1"/>
<rect x="889.8" y="396.9" width="3.2" height="11.2" fill="#ff1b1b"/>
<line x1="895.6" y1="405" x2="895.6" y2="421.25" stroke="#ff1b1b" stroke-width="1"/>
<rect x="894" y="408.1" width="3.2" height="9.4" fill="#ff1b1b"/>
<line x1="900" y1="400.6" x2="900" y2="424.4" stroke="#ff1b1b" stroke-width="1"/>
<rect x="898.4" y="415.6" width="3.2" height="2.5" fill="#ff1b1b"/>
<line x1="904.1" y1="410" x2="904.1" y2="424.4" stroke="#02c88c" stroke-width="1"/>
<rect x="902.5" y="416.25" width="3.2" height="1.85" fill="#02c88c"/>
<line x1="908.5" y1="394.4" x2="908.5" y2="433.1" stroke="#02c88c" stroke-width="1"/>
<rect x="906.9" y="400" width="3.2" height="16.9" fill="#02c88c"/>
<line x1="912.9" y1="393.1" x2="912.9" y2="415.6" stroke="#ff1b1b" stroke-width="1"/>
<rect x="911.3" y="400" width="3.2" height="12.5" fill="#ff1b1b"/>
<line x1="917.25" y1="384.4" x2="917.25" y2="412.5" stroke="#02c88c" stroke-width="1"/>
<rect x="915.65" y="385.6" width="3.2" height="26.9" fill="#02c88c"/>
<line x1="921.6" y1="378.75" x2="921.6" y2="393.1" stroke="#02c88c" stroke-width="1"/>
<rect x="920" y="383.1" width="3.2" height="3.8" fill="#02c88c"/>
<line x1="925.75" y1="379.4" x2="925.75" y2="404.4" stroke="#ff1b1b" stroke-width="1"/>
<rect x="924.15" y="383.1" width="3.2" height="20" fill="#ff1b1b"/>
<line x1="929.5" y1="385.6" x2="929.5" y2="405.6" stroke="#02c88c" stroke-width="1"/>
<rect x="927.9" y="398.75" width="3.2" height="3.75" fill="#02c88c"/>
<line x1="934.2" y1="380" x2="934.2" y2="415.6" stroke="#02c88c" stroke-width="1"/>
<rect x="932.6" y="382.5" width="3.2" height="16.25" fill="#02c88c"/>
<line x1="938.75" y1="373.75" x2="938.75" y2="393.75" stroke="#02c88c" stroke-width="1"/>
<rect x="937.15" y="378.75" width="3.2" height="4.35" fill="#02c88c"/>
<line x1="943.1" y1="356.25" x2="943.1" y2="385" stroke="#02c88c" stroke-width="1"/>
<rect x="941.5" y="358.75" width="3.2" height="20.65" fill="#02c88c"/>
<line x1="947" y1="331.9" x2="947" y2="363.75" stroke="#02c88c" stroke-width="1"/>
<rect x="945.4" y="333.1" width="3.2" height="25.65" fill="#02c88c"/>
<line x1="951.6" y1="331.25" x2="951.6" y2="360" stroke="#ff1b1b" stroke-width="1"/>
<rect x="950" y="332.5" width="3.2" height="27.5" fill="#ff1b1b"/>
<line x1="955.7" y1="352" x2="955.7" y2="366.5" stroke="#02c88c" stroke-width="1"/>
<rect x="954.1" y="358.75" width="3.2" height="1.05" fill="#02c88c"/>
<line x1="960" y1="358.4" x2="960" y2="379.4" stroke="#ff1b1b" stroke-width="1"/>
<rect x="958.4" y="360" width="3.2" height="18.1" fill="#ff1b1b"/>
<line x1="964.4" y1="361.9" x2="964.4" y2="383.75" stroke="#ff1b1b" stroke-width="1"/>
<rect x="962.8" y="377.5" width="3.2" height="2.5" fill="#ff1b1b"/>
<line x1="968.9" y1="356.25" x2="968.9" y2="392" stroke="#ff1b1b" stroke-width="1"/>
<rect x="967.3" y="379.4" width="3.2" height="12.5" fill="#ff1b1b"/>
<line x1="973.25" y1="387.5" x2="973.25" y2="411.25" stroke="#ff1b1b" stroke-width="1"/>
<rect x="971.65" y="392.5" width="3.2" height="14.4" fill="#ff1b1b"/>
<polyline points="300.6,97 434.4,267 490,178.7" fill="none" stroke="#8c8c8c" stroke-width="1.1" stroke-dasharray="1.2 3.1"/>
<line x1="137.8" y1="24.1" x2="515.6" y2="189" stroke="#f49a48" stroke-opacity="0.8" stroke-width="1.55" stroke-linecap="round"/>
<line x1="158.75" y1="131.6" x2="632.5" y2="359.4" stroke="#f49a48" stroke-opacity="0.8" stroke-width="1.55" stroke-linecap="round"/>
<line x1="0" y1="487" x2="1024" y2="487" stroke="#b4b4b4" stroke-width="1.5"/>
<line x1="975.5" y1="0" x2="975.5" y2="512" stroke="#8a8a8a" stroke-width="1"/>
<line x1="975.5" y1="44.5" x2="980.5" y2="44.5" stroke="#8a8a8a" stroke-width="1"/>
<line x1="975.5" y1="88.39" x2="980.5" y2="88.39" stroke="#8a8a8a" stroke-width="1"/>
<line x1="975.5" y1="132.28" x2="980.5" y2="132.28" stroke="#8a8a8a" stroke-width="1"/>
<line x1="975.5" y1="176.17" x2="980.5" y2="176.17" stroke="#8a8a8a" stroke-width="1"/>
<line x1="975.5" y1="220.06" x2="980.5" y2="220.06" stroke="#8a8a8a" stroke-width="1"/>
<line x1="975.5" y1="263.95" x2="980.5" y2="263.95" stroke="#8a8a8a" stroke-width="1"/>
<line x1="975.5" y1="307.84" x2="980.5" y2="307.84" stroke="#8a8a8a" stroke-width="1"/>
<line x1="975.5" y1="351.73" x2="980.5" y2="351.73" stroke="#8a8a8a" stroke-width="1"/>
<line x1="975.5" y1="395.62" x2="980.5" y2="395.62" stroke="#8a8a8a" stroke-width="1"/>
<line x1="975.5" y1="439.51" x2="980.5" y2="439.51" stroke="#8a8a8a" stroke-width="1"/>
<line x1="975.5" y1="483.4" x2="980.5" y2="483.4" stroke="#8a8a8a" stroke-width="1"/>
<line x1="33" y1="487.5" x2="33" y2="492" stroke="#7a7a7a" stroke-width="1"/>
<line x1="123" y1="487.5" x2="123" y2="492" stroke="#7a7a7a" stroke-width="1"/>
<line x1="209.5" y1="487.5" x2="209.5" y2="492" stroke="#7a7a7a" stroke-width="1"/>
<line x1="309.2" y1="487.5" x2="309.2" y2="492" stroke="#7a7a7a" stroke-width="1"/>
<line x1="399.2" y1="487.5" x2="399.2" y2="492" stroke="#7a7a7a" stroke-width="1"/>
<line x1="494.3" y1="487.5" x2="494.3" y2="492" stroke="#7a7a7a" stroke-width="1"/>
<line x1="589.5" y1="487.5" x2="589.5" y2="492" stroke="#7a7a7a" stroke-width="1"/>
<line x1="679.5" y1="487.5" x2="679.5" y2="492" stroke="#7a7a7a" stroke-width="1"/>
<line x1="779.5" y1="487.5" x2="779.5" y2="492" stroke="#7a7a7a" stroke-width="1"/>
<line x1="874.8" y1="487.5" x2="874.8" y2="492" stroke="#7a7a7a" stroke-width="1"/>
<line x1="964.8" y1="487.5" x2="964.8" y2="492" stroke="#7a7a7a" stroke-width="1"/>
<text x="983.3" y="48" font-size="10.5" font-weight="bold" fill="#5a5a5a" textLength="32.7" lengthAdjust="spacingAndGlyphs">1.14000</text>
<text x="982.6" y="487.1" font-size="10.5" font-weight="bold" fill="#5a5a5a" textLength="33.5" lengthAdjust="spacingAndGlyphs">0.94000</text>
<rect x="931.4" y="185.3" width="44.1" height="13.2" fill="#21b06f"/>
<rect x="975.5" y="185.3" width="42.8" height="24.7" fill="#21b06f"/>
<text x="934.2" y="195.3" font-size="9.2" font-weight="bold" fill="#fff" textLength="37.6" lengthAdjust="spacingAndGlyphs">EURUSD</text>
<text x="979.2" y="195.3" font-size="9.2" font-weight="bold" fill="#fff" textLength="33.7" lengthAdjust="spacingAndGlyphs">1.07263</text>
<text x="978.9" y="208" font-size="9.2" font-weight="bold" fill="#fff" textLength="37.1" lengthAdjust="spacingAndGlyphs">02:57:24</text>
<rect x="976.4" y="400.7" width="41" height="12.2" fill="#fbfbfb" stroke="#ef4652" stroke-width="1"/>
<text x="979.2" y="410" font-size="9.6" font-weight="bold" fill="#ea3a48" textLength="34.6" lengthAdjust="spacingAndGlyphs">0.97500</text>
<text x="615.6" y="375.6" font-size="17" font-weight="bold" fill="#111" textLength="10" lengthAdjust="spacingAndGlyphs">3</text>
<text x="852.4" y="473.3" font-size="17" font-weight="bold" fill="#111" textLength="11.5" lengthAdjust="spacingAndGlyphs">4</text>
</svg></body></html>
